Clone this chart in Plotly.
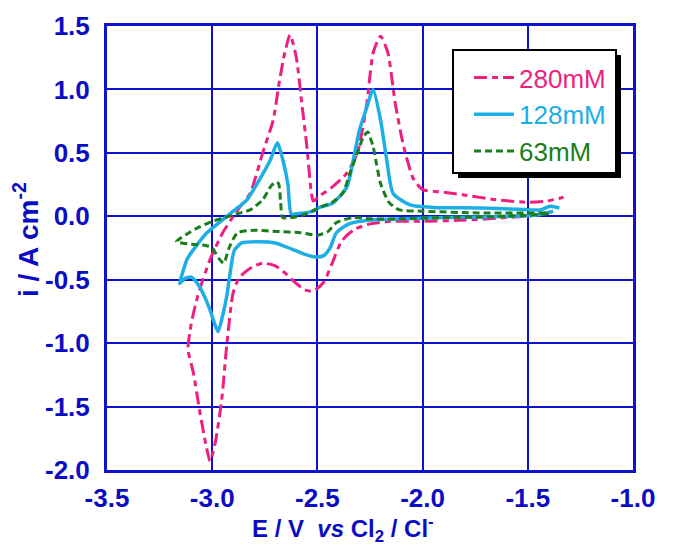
import plotly.graph_objects as go

# Cyclic voltammograms at three concentrations (E in V vs Cl2/Cl-, i in A cm-2)
E_280 = [-1.38, -1.45, -1.60, -1.80, -2.00, -2.15, -2.25, -2.32, -2.36, -2.39, -2.43, -2.47,
         -2.52, -2.56, -2.60, -2.645, -2.70, -2.76, -2.81, -2.87, -2.90, -2.93, -2.955, -2.985,
         -3.01, -3.03, -3.06, -3.09, -3.115, -3.10, -3.08, -3.06, -3.01, -2.95, -2.90, -2.87,
         -2.82, -2.76, -2.71, -2.68, -2.655, -2.63, -2.60, -2.575, -2.55, -2.53, -2.52, -2.49,
         -2.43, -2.36, -2.31, -2.265, -2.235, -2.20, -2.165, -2.13, -2.09, -2.045, -2.00, -1.90,
         -1.81, -1.65, -1.50, -1.41, -1.33]
i_280 = [0.04, 0.01, -0.01, -0.03, -0.04, -0.04, -0.06, -0.10, -0.15, -0.21, -0.37, -0.52,
         -0.59, -0.58, -0.53, -0.46, -0.39, -0.37, -0.40, -0.48, -0.60, -1.00, -1.45, -1.78,
         -1.93, -1.80, -1.53, -1.23, -1.05, -0.85, -0.70, -0.58, -0.34, -0.13, 0.00, 0.07,
         0.18, 0.50, 0.76, 1.07, 1.29, 1.43, 1.25, 0.90, 0.55, 0.20, 0.12, 0.16,
         0.23, 0.34, 0.50, 0.89, 1.29, 1.42, 1.29, 0.89, 0.55, 0.30, 0.21, 0.19,
         0.17, 0.13, 0.11, 0.12, 0.15]

E_128 = [-1.38, -1.46, -1.70, -1.90, -2.10, -2.25, -2.35, -2.41, -2.44, -2.47, -2.51, -2.56,
         -2.62, -2.70, -2.78, -2.86, -2.895, -2.915, -2.93, -2.95, -2.972, -2.99, -3.01, -3.04,
         -3.07, -3.10, -3.13, -3.155, -3.14, -3.12, -3.09, -3.025, -2.96, -2.90, -2.835, -2.775,
         -2.725, -2.69, -2.665, -2.64, -2.625, -2.60, -2.52, -2.49, -2.43, -2.36, -2.33, -2.30,
         -2.265, -2.235, -2.20, -2.17, -2.14, -2.06, -1.95, -1.73, -1.55, -1.44, -1.41, -1.39,
         -1.35]
i_128 = [0.04, 0.01, -0.005, -0.01, -0.02, -0.03, -0.06, -0.13, -0.25, -0.31, -0.32, -0.30,
         -0.26, -0.21, -0.20, -0.21, -0.27, -0.45, -0.62, -0.78, -0.91, -0.84, -0.74, -0.62,
         -0.53, -0.48, -0.49, -0.53, -0.44, -0.34, -0.265, -0.13, -0.04, 0.04, 0.13, 0.29,
         0.44, 0.58, 0.45, 0.25, 0.02, 0.02, 0.04, 0.07, 0.10, 0.23, 0.44, 0.68,
         0.86, 1.00, 0.76, 0.44, 0.18, 0.09, 0.07, 0.066, 0.055, 0.05, 0.07, 0.08,
         0.065]

E_63 = [-1.40, -1.60, -1.90, -2.10, -2.25, -2.33, -2.41, -2.45, -2.50, -2.58, -2.69, -2.80,
        -2.88, -2.92, -2.945, -2.97, -3.00, -3.03, -3.10, -3.17, -3.12, -3.08, -3.00, -2.94,
        -2.88, -2.82, -2.76, -2.72, -2.70, -2.685, -2.675, -2.665, -2.62, -2.55, -2.49, -2.43,
        -2.38, -2.345, -2.31, -2.28, -2.26, -2.245, -2.235, -2.22, -2.20, -2.16, -2.11, -2.00,
        -1.73, -1.41]
i_63 = [0.02, 0.00, -0.01, -0.02, -0.02, -0.01, -0.05, -0.12, -0.15, -0.13, -0.12, -0.11,
        -0.13, -0.25, -0.37, -0.33, -0.25, -0.23, -0.22, -0.20, -0.14, -0.10, -0.04, -0.01,
        0.02, 0.05, 0.13, 0.24, 0.27, 0.26, 0.12, -0.01, -0.01, 0.02, 0.07, 0.11,
        0.18, 0.34, 0.50, 0.63, 0.665, 0.60, 0.55, 0.42, 0.26, 0.11, 0.05, 0.04,
        0.026, 0.026]

labels = ["280mM", "128mM", "63mM"]
colors = ["#EE1F7F", "#1DAEE6", "#1B7D1B"]
dashes = ["13px,5px,6px,5px", "solid", "7px,4px"]
widths = [3, 3.5, 3]

# axis ticks (labels written with a plain hyphen as the minus sign)
x_ticks = [-3.5, -3.0, -2.5, -2.0, -1.5, -1.0]
x_ticktext = ["-3.5", "-3.0", "-2.5", "-2.0", "-1.5", "-1.0"]
y_ticks = [-2.0, -1.5, -1.0, -0.5, 0.0, 0.5, 1.0, 1.5]
y_ticktext = ["-2.0", "-1.5", "-1.0", "-0.5", "0.0", "0.5", "1.0", "1.5"]

AXIS_BLUE = "#1010D0"
TEXT_BLUE = "#0C0CC4"
FONT = "Liberation Sans, Arial, sans-serif"

fig = go.Figure()
for E, i, lab, col, dsh, w in zip([E_280, E_128, E_63], [i_280, i_128, i_63],
                                  labels, colors, dashes, widths):
    fig.add_trace(go.Scatter(
        x=E, y=i, mode="lines",
        name=f'<span style="color:{col}">{lab}</span>',
        line=dict(color=col, width=w, dash=dsh, shape="spline", smoothing=0.6),
    ))

# plot area in pixels: x 107..633, y 26..470
L, R, T, B = 107, 633, 26, 470
W, H = R - L, B - T


def px(xp):
    return (xp - L) / W


def py(yp):
    return (B - yp) / H


# legend frame with drop shadow
fig.add_shape(type="rect", xref="paper", yref="paper",
              x0=px(458), x1=px(621), y0=py(55), y1=py(178),
              fillcolor="black", line=dict(width=0), layer="above")
fig.add_shape(type="rect", xref="paper", yref="paper",
              x0=px(453), x1=px(616), y0=py(50), y1=py(173),
              fillcolor="white", line=dict(color="black", width=2), layer="above")

axis_common = dict(
    showline=True, mirror=True, linecolor=AXIS_BLUE, linewidth=3,
    showgrid=True, gridcolor=AXIS_BLUE, gridwidth=1.5,
    zeroline=False, ticks="",
    tickfont=dict(family=FONT, size=26, color=TEXT_BLUE, weight="bold"),
)

fig.update_layout(
    width=674, height=545,
    margin=dict(l=L, r=674 - R, t=T, b=545 - B),
    paper_bgcolor="white", plot_bgcolor="white",
    font=dict(family=FONT, color=TEXT_BLUE),
    xaxis=dict(range=[-3.5, -1.0], tickvals=x_ticks, ticktext=x_ticktext,
               ticklabelstandoff=3, **axis_common),
    yaxis=dict(range=[-2.0, 1.5], tickvals=y_ticks, ticktext=y_ticktext,
               ticklabelstandoff=9, **axis_common),
    showlegend=True,
    legend=dict(
        x=px(469), y=py(54), xanchor="left", yanchor="top",
        bgcolor="rgba(0,0,0,0)", borderwidth=0,
        font=dict(family=FONT, size=26),
        itemwidth=40,
    ),
    annotations=[
        dict(text="<b>E / V  <i>vs</i> Cl<sub>2</sub> / Cl<sup>-</sup></b>",
             xref="paper", yref="paper", x=px(343), y=py(529),
             xanchor="center", yanchor="middle", showarrow=False,
             font=dict(family=FONT, size=24, color=TEXT_BLUE)),
        dict(text="<b>i / A cm<sup>-2</sup></b>",
             xref="paper", yref="paper", x=px(26), y=py(240),
             xanchor="center", yanchor="middle", showarrow=False, textangle=-90,
             font=dict(family=FONT, size=28, color=TEXT_BLUE)),
    ],
)

fig.write_html("out.html")
